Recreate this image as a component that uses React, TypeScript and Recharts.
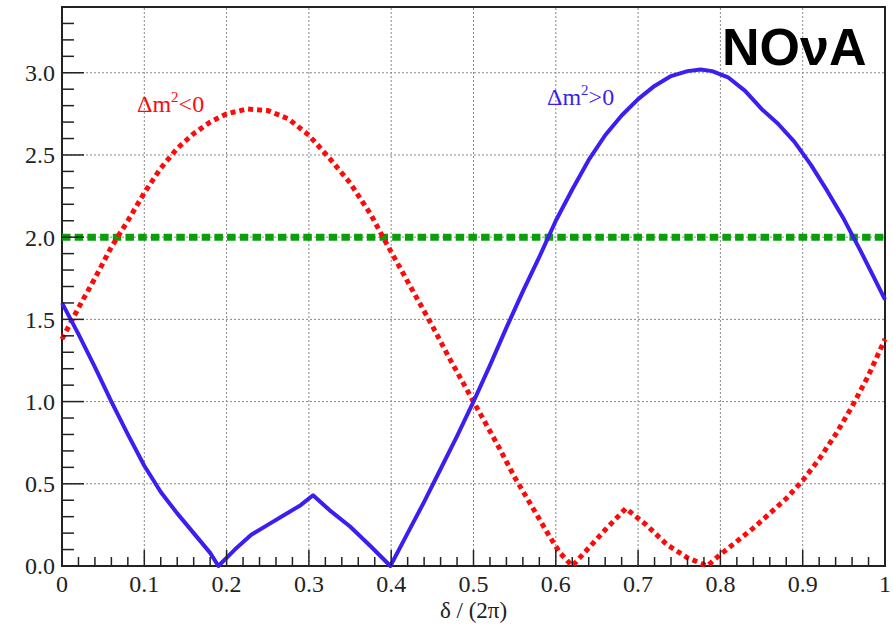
import { LineChart, Line, XAxis, YAxis, ReferenceLine, ReferenceArea } from "recharts";

// Δm² > 0 (normal hierarchy), blue solid
const normalX = [
  0, 0.02, 0.04, 0.06, 0.08, 0.1, 0.12, 0.14, 0.16, 0.18, 0.19, 0.21, 0.23, 0.25, 0.27, 0.29, 0.305,
  0.325, 0.35, 0.375, 0.399, 0.42, 0.44, 0.46, 0.48, 0.5, 0.52, 0.54, 0.56, 0.58, 0.6, 0.62, 0.64,
  0.66, 0.68, 0.7, 0.72, 0.74, 0.76, 0.776, 0.79, 0.81, 0.83, 0.85, 0.87, 0.89, 0.91, 0.93, 0.95,
  0.97, 0.99, 1.0,
];
const normalY = [
  1.6, 1.41, 1.21, 1.0, 0.8, 0.61, 0.45, 0.32, 0.2, 0.08, 0.0, 0.1, 0.19, 0.25, 0.31, 0.37, 0.43,
  0.34, 0.24, 0.12, 0.0, 0.2, 0.39, 0.59, 0.79, 1.0, 1.22, 1.45, 1.67, 1.88, 2.1, 2.29, 2.47,
  2.62, 2.74, 2.84, 2.92, 2.98, 3.01, 3.02, 3.01, 2.97, 2.89, 2.78, 2.69, 2.58, 2.44, 2.28, 2.11,
  1.92, 1.72, 1.62,
];

// Δm² < 0 (inverted hierarchy), red dotted
const invertedX = [
  0, 0.02, 0.04, 0.06, 0.08, 0.1, 0.12, 0.14, 0.16, 0.18, 0.2, 0.225, 0.25, 0.275, 0.3, 0.325, 0.35,
  0.375, 0.39, 0.41, 0.43, 0.45, 0.47, 0.49, 0.51, 0.53, 0.55, 0.57, 0.59, 0.605, 0.62, 0.64, 0.66,
  0.685, 0.71, 0.735, 0.76, 0.784, 0.8, 0.82, 0.84, 0.86, 0.88, 0.9, 0.92, 0.94, 0.96, 0.98, 1.0,
];
const invertedY = [
  1.38, 1.57, 1.75, 1.94, 2.1, 2.27, 2.42, 2.54, 2.63, 2.7, 2.75, 2.78, 2.77, 2.72, 2.62, 2.48, 2.33,
  2.14, 2.0, 1.82, 1.64, 1.46, 1.27, 1.09, 0.91, 0.73, 0.54, 0.37, 0.2, 0.08, 0.0, 0.11, 0.22,
  0.35, 0.25, 0.13, 0.05, 0.0, 0.07, 0.15, 0.23, 0.32, 0.41, 0.52, 0.65, 0.8, 0.97, 1.16, 1.38,
];

const threshold = 2.0;

const xMajorTicks = [0, 0.1, 0.2, 0.3, 0.4, 0.5, 0.6, 0.7, 0.8, 0.9, 1];
const xTickLabels = ["0", "0.1", "0.2", "0.3", "0.4", "0.5", "0.6", "0.7", "0.8", "0.9", "1"];
const yMajorTicks = [0, 0.5, 1, 1.5, 2, 2.5, 3];
const yTickLabels = ["0.0", "0.5", "1.0", "1.5", "2.0", "2.5", "3.0"];

const xAllTicks = Array.from({ length: 51 }, (_, i) => i / 50);
const yAllTicks = Array.from({ length: 35 }, (_, i) => i / 10);

const normalData = normalX.map((x, i) => ({ x, y: normalY[i] }));
const invertedData = invertedX.map((x, i) => ({ x, y: invertedY[i] }));

const SERIF = "Liberation Serif";
const SANS = "Liberation Sans";
const INK = "#222";
const X_MARGIN = 9;
const Y_MARGIN = 7;

const labelFor = (v: number, majors: number[], labels: string[]) => {
  const i = majors.findIndex((m) => Math.abs(m - v) < 1e-6);
  return i >= 0 ? labels[i] : null;
};

const XTick = ({ x, y, payload }: any) => {
  const label = labelFor(payload.value, xMajorTicks, xTickLabels);
  const axisY = y - X_MARGIN;
  return (
    <g>
      <line x1={x} x2={x} y1={axisY} y2={axisY - (label ? 16 : 9)} stroke={INK} strokeWidth={1.5} />
      {label && (
        <text x={x} y={y} dy="0.71em" textAnchor="middle" fontFamily={SERIF} fontSize={24} fill={INK}>
          {label}
        </text>
      )}
    </g>
  );
};

const YTick = ({ x, y, payload }: any) => {
  const label = labelFor(payload.value, yMajorTicks, yTickLabels);
  const axisX = x + Y_MARGIN;
  return (
    <g>
      <line x1={axisX} x2={axisX + (label ? 22 : 12)} y1={y} y2={y} stroke={INK} strokeWidth={1.5} />
      {label && (
        <text x={x} y={y} dy="0.35em" textAnchor="end" fontFamily={SERIF} fontSize={24} fill={INK}>
          {label}
        </text>
      )}
    </g>
  );
};

export default function App() {
  return (
    <div style={{ position: "absolute", left: 0, top: 0, width: 893, height: 626, background: "#fff" }}>
      <LineChart width={893} height={626} margin={{ top: 7, right: 8, bottom: 0, left: 0 }}>
        <XAxis
          type="number"
          dataKey="x"
          domain={[0, 1]}
          ticks={xAllTicks}
          interval={0}
          tickSize={0}
          tickMargin={X_MARGIN}
          tickLine={false}
          axisLine={false}
          tick={<XTick />}
          height={60}
          label={{ value: "δ / (2π)", position: "insideBottom", offset: 8, fontFamily: SERIF, fontSize: 23, fill: INK }}
        />
        <YAxis
          type="number"
          dataKey="y"
          domain={[0, 3.4]}
          ticks={yAllTicks}
          interval={0}
          tickSize={0}
          tickMargin={Y_MARGIN}
          tickLine={false}
          axisLine={false}
          tick={<YTick />}
          width={62}
        />
        {xMajorTicks.slice(1, -1).map((v) => (
          <ReferenceLine key={"vx" + v} x={v} stroke="#888" strokeDasharray="2 2" strokeWidth={1} />
        ))}
        {yMajorTicks.slice(1).map((v) => (
          <ReferenceLine key={"hy" + v} y={v} stroke="#888" strokeDasharray="2 2" strokeWidth={1} />
        ))}
        <ReferenceLine y={threshold} stroke="#0a9e0a" strokeWidth={7} strokeDasharray="8.5 4.2" />
        <Line
          data={invertedData}
          dataKey="y"
          type="linear"
          stroke="#ff0a0a"
          strokeWidth={5}
          strokeDasharray="5 4"
          dot={false}
          isAnimationActive={false}
        />
        <Line
          data={normalData}
          dataKey="y"
          type="linear"
          stroke="#3b1ff0"
          strokeWidth={4}
          strokeLinejoin="round"
          dot={false}
          isAnimationActive={false}
        />
        <ReferenceArea x1={0} x2={1} y1={0} y2={3.4} fill="none" stroke={INK} strokeWidth={2} fillOpacity={0} />
      </LineChart>
      <svg width={893} height={626} style={{ position: "absolute", left: 0, top: 0, pointerEvents: "none" }}>
        <text x={137} y={112} fontFamily={SERIF} fontSize={24} fill="#ff0a0a">
          Δm<tspan dy={-10} fontSize={15}>2</tspan>
          <tspan dy={10}>&lt;0</tspan>
        </text>
        <text x={547} y={105} fontFamily={SERIF} fontSize={24} fill="#3b1ff0">
          Δm<tspan dy={-10} fontSize={15}>2</tspan>
          <tspan dy={10}>&gt;0</tspan>
        </text>
        <text x={722} y={65} fontFamily={SANS} fontWeight="bold" fontSize={52} fill="#000">
          NOνA
        </text>
      </svg>
    </div>
  );
}
